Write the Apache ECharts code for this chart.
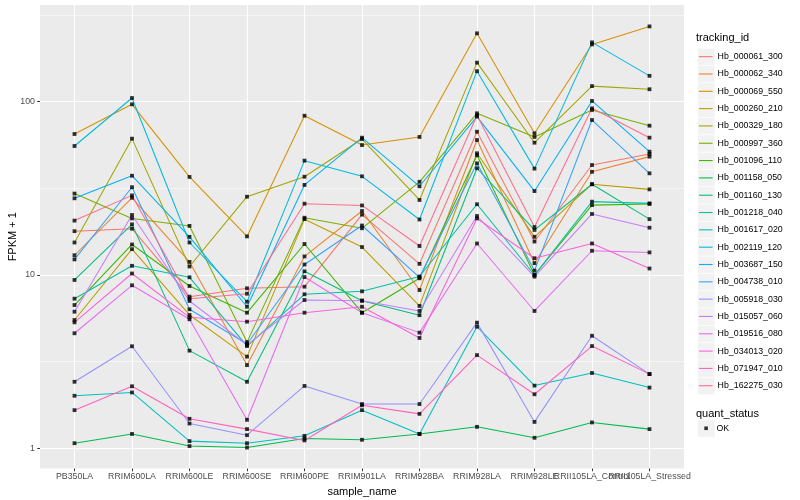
<!DOCTYPE html>
<html><head><meta charset="utf-8">
<script src="https://cdn.jsdelivr.net/npm/echarts@6/dist/echarts.min.js"></script>
<style>html,body{margin:0;padding:0;background:#fff}#c{width:800px;height:500px}</style>
</head><body><div id="c"></div>
<script>
// ---- data ----
const categories = ['PB350LA','RRIM600LA','RRIM600LE','RRIM600SE','RRIM600PE','RRIM901LA','RRIM928BA','RRIM928LA','RRIM928LE','RRII105LA_Control','RRII105LA_Stressed'];
const trackingIds = ['Hb_000061_300','Hb_000062_340','Hb_000069_550','Hb_000260_210','Hb_000329_180','Hb_000997_360','Hb_001096_110','Hb_001158_050','Hb_001160_130','Hb_001218_040','Hb_001617_020','Hb_002119_120','Hb_003687_150','Hb_004738_010','Hb_005918_030','Hb_015057_060','Hb_019516_080','Hb_034013_020','Hb_071947_010','Hb_162275_030'];
const seriesColors = ['#F8766D','#EA8331','#D89000','#C09B00','#A3A500','#7CAE00','#39B600','#00BB4E','#00BF7D','#00C1A3','#00BFC4','#00BAE0','#00B0F6','#35A2FF','#9590FF','#C77CFF','#E76BF3','#FA62DB','#FF62BC','#FF6C91'];
// FPKM + 1 per sample, in category order
const Hb_000061_300 = [17.9, 18.5, 7.50, 8.38, 8.56, 22.3, 11.6, 67.1, 15.6, 43.1, 49.9];
const Hb_000062_340 = [13.0, 27.9, 11.9, 3.02, 12.8, 23.4, 8.19, 60.1, 11.7, 39.4, 48.2];
const Hb_000069_550 = [65.1, 96.6, 36.8, 16.7, 83.0, 56.2, 62.6, 248, 65.7, 214, 272];
const Hb_000260_210 = [5.50, 14.1, 5.88, 3.38, 21.0, 14.5, 6.63, 50.4, 16.6, 33.4, 31.2];
const Hb_000329_180 = [15.4, 61.2, 11.2, 28.3, 36.9, 60.9, 27.1, 168, 58.0, 123, 118];
const Hb_000997_360 = [29.5, 21.2, 19.2, 4.1, 21.4, 18.6, 34.5, 85.7, 62.6, 89.6, 72.7];
const Hb_001096_110 = [6.71, 15.0, 8.64, 6.06, 15.1, 6.06, 9.57, 49.1, 10.0, 25.3, 25.7];
const Hb_001158_050 = [1.07, 1.21, 1.03, 1.01, 1.14, 1.12, 1.21, 1.33, 1.15, 1.41, 1.29];
const Hb_001160_130 = [9.36, 19.6, 3.66, 2.42, 10.5, 7.11, 5.86, 41.3, 18.2, 33.4, 21.0];
const Hb_001218_040 = [7.30, 11.3, 9.70, 3.89, 7.74, 8.05, 9.8, 25.6, 10.0, 26.5, 25.9];
const Hb_001617_020 = [2.01, 2.10, 1.10, 1.07, 1.18, 1.66, 1.21, 5.03, 2.30, 2.72, 2.24];
const Hb_002119_120 = [55.5, 105, 15.4, 7.01, 45.7, 37.1, 20.9, 150, 41.1, 220, 141];
const Hb_003687_150 = [27.7, 37.4, 16.6, 6.56, 33.1, 62.0, 32.5, 82, 30.5, 101, 51.5];
const Hb_004738_010 = [12.3, 32.1, 6.34, 4.0, 11.5, 19.3, 9.70, 44.1, 10.6, 78.4, 38.6];
const Hb_005918_030 = [2.42, 3.88, 1.39, 1.19, 2.29, 1.80, 1.80, 5.31, 1.42, 4.46, 2.68];
const Hb_015057_060 = [6.14, 22.2, 7.08, 3.95, 7.17, 7.11, 6.20, 21.9, 9.78, 22.5, 18.75];
const Hb_019516_080 = [4.61, 8.72, 5.55, 1.46, 9.73, 6.06, 4.65, 15.2, 6.20, 13.8, 13.5];
const Hb_034013_020 = [5.33, 10.2, 5.70, 5.38, 6.06, 6.56, 4.33, 21.2, 12.5, 15.2, 10.9];
const Hb_071947_010 = [1.66, 2.28, 1.48, 1.29, 1.11, 1.77, 1.58, 3.45, 2.05, 3.89, 2.68];
const Hb_162275_030 = [20.6, 28.8, 7.30, 7.80, 25.8, 25.2, 14.7, 83.5, 18.9, 91.6, 62.0];
const seriesValues = [Hb_000061_300, Hb_000062_340, Hb_000069_550, Hb_000260_210, Hb_000329_180, Hb_000997_360, Hb_001096_110, Hb_001158_050, Hb_001160_130, Hb_001218_040, Hb_001617_020, Hb_002119_120, Hb_003687_150, Hb_004738_010, Hb_005918_030, Hb_015057_060, Hb_019516_080, Hb_034013_020, Hb_071947_010, Hb_162275_030];
const yTickValues = [1, 10, 100];
const yMinorValues = [3.1623, 31.623, 316.23];
const quantStatus = 'OK';

// ---- chart ----
const FONT = '"Liberation Sans", Arial, Helvetica, sans-serif';
const lg = v => Math.log10(v);
const yMin = -0.1166, yMax = 2.558;
const catIdx = categories.map((c, i) => i);
const evenIdx = catIdx.filter(i => i % 2 === 0);
const oddIdx = catIdx.filter(i => i % 2 === 1);

const lines = seriesValues.map((vals, k) => ({
  type: 'line', name: trackingIds[k],
  data: vals.map((v, i) => [i, lg(v)]),
  symbol: 'none', showSymbol: false,
  color: seriesColors[k],
  itemStyle: { color: seriesColors[k] },
  lineStyle: { width: 1.05, color: seriesColors[k] },
  z: 2, animation: false, silent: true
}));
const pts = [];
seriesValues.forEach(vals => vals.forEach((v, i) => pts.push([i, lg(v)])));
const scatter = {
  type: 'scatter', name: quantStatus, data: pts,
  symbol: 'rect', symbolSize: 3.8,
  itemStyle: { color: '#000' }, z: 3, animation: false, silent: true
};

const keyBoxes = [];
for (let i = 0; i < trackingIds.length; i++) {
  keyBoxes.push({ type: 'rect', left: 697.4, top: 48 + i * 17.32, z: -1,
    shape: { width: 17.3, height: 17.3 }, style: { fill: '#F2F2F2', stroke: '#fff', lineWidth: 0.6 } });
}
keyBoxes.push({ type: 'rect', left: 697.4, top: 419.6, z: -1,
  shape: { width: 17.3, height: 17.3 }, style: { fill: '#F2F2F2', stroke: '#fff', lineWidth: 0.6 } });

const xLabelBase = { fontSize: 8.8, color: '#4D4D4D', margin: 4, fontFamily: FONT, hideOverlap: false, showMinLabel: true, showMaxLabel: true,
  formatter: v => categories[Math.round(v)] };

const chart = echarts.init(document.getElementById('c'), null, { renderer: 'canvas' });
chart.setOption({
  animation: false,
  backgroundColor: '#fff',
  textStyle: { fontFamily: FONT },
  grid: { left: 40, top: 5, width: 644, height: 463.5, show: true, backgroundColor: '#EBEBEB', borderWidth: 0, containLabel: false, outerBoundsMode: 'none' },
  title: [
    { text: 'tracking_id', left: 696, top: 32, padding: 0, textStyle: { fontSize: 11, fontWeight: 'normal', color: '#000', fontFamily: FONT } },
    { text: 'quant_status', left: 696, top: 408, padding: 0, textStyle: { fontSize: 11, fontWeight: 'normal', color: '#000', fontFamily: FONT } }
  ],
  graphic: keyBoxes,
  legend: [
    { data: trackingIds, orient: 'vertical', left: 699, top: 48, padding: 0, itemWidth: 13.6, itemHeight: 1.1, itemGap: 0,
      icon: 'rect', selectedMode: false,
      textStyle: { fontSize: 8.8, lineHeight: 17.32, color: '#000', fontFamily: FONT } },
    { data: [quantStatus], orient: 'vertical', left: 704.3, top: 419.6, padding: 0, itemWidth: 3.6, itemHeight: 3.6, itemGap: 0,
      icon: 'rect', selectedMode: false,
      textStyle: { fontSize: 8.8, lineHeight: 17.32, color: '#000', fontFamily: FONT, padding: [0, 0, 0, 3.5] } }
  ],
  xAxis: [{
    type: 'value', min: -0.6, max: 10.6, position: 'bottom',
    name: 'sample_name', nameLocation: 'middle', nameGap: 14,
    nameTextStyle: { fontSize: 11, color: '#000', fontFamily: FONT },
    axisLine: { show: false, onZero: false },
    axisTick: { show: true, customValues: catIdx, length: 2.75, lineStyle: { color: '#333', width: 1 } },
    axisLabel: Object.assign({ customValues: evenIdx }, xLabelBase),
    splitLine: { show: true, lineStyle: { color: '#fff', width: 1.1 } }
  }, {
    type: 'value', min: -0.6, max: 10.6, position: 'bottom', offset: 0,
    axisLine: { show: false, onZero: false },
    axisTick: { show: false, customValues: oddIdx },
    axisLabel: Object.assign({ customValues: oddIdx }, xLabelBase),
    splitLine: { show: false }
  }],
  yAxis: [{
    type: 'value', min: yMin, max: yMax,
    name: 'FPKM + 1', nameLocation: 'middle', nameGap: 21.5, nameRotate: 90, nameMoveOverlap: false,
    nameTextStyle: { fontSize: 11, color: '#000', fontFamily: FONT },
    axisLine: { show: false, onZero: false },
    axisTick: { show: true, customValues: yTickValues.map(lg), length: 2.75, lineStyle: { color: '#333', width: 1 } },
    axisLabel: { customValues: yTickValues.map(lg), formatter: v => String(Math.round(Math.pow(10, v))), fontSize: 8.8, color: '#4D4D4D', margin: 5, fontFamily: FONT },
    splitLine: { show: true, lineStyle: { color: '#fff', width: 1.1 } }
  }, {
    type: 'value', min: yMin, max: yMax, position: 'left', offset: 0,
    axisLine: { show: false, onZero: false },
    axisTick: { show: false, customValues: yMinorValues.map(lg) },
    axisLabel: { show: false, customValues: yMinorValues.map(lg) },
    splitLine: { show: true, lineStyle: { color: '#fff', width: 0.55 } }
  }],
  series: lines.concat([scatter])
});
</script></body></html>
